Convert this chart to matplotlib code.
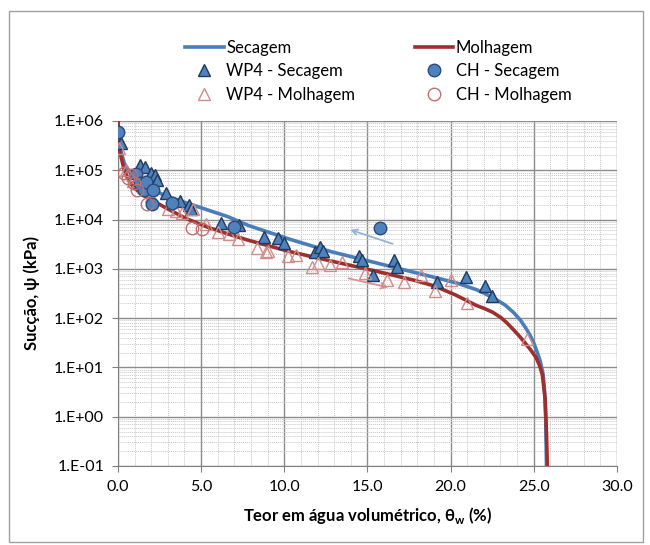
import numpy as np
import matplotlib
matplotlib.use("Agg")
from matplotlib import pyplot as plt
from matplotlib.patches import Rectangle
from matplotlib.ticker import MultipleLocator, LogLocator

plt.rcParams['font.family'] = ['Lato', 'DejaVu Sans']

# Curvas ajustadas (teor em agua %, succao kPa)
sec_theta = [0.0, 0.37, 0.87, 1.62, 2.86, 4.1, 5.35, 6.6, 7.84, 10.33, 12.8, 15.3,
             17.8, 20.3, 21.53, 22.0, 22.78, 23.3, 23.77, 24.2, 24.52, 24.8, 25.02,
             25.25, 25.39, 25.57, 25.66, 25.72, 25.77]
sec_psi = [10**5.61, 10**5.15, 10**4.87, 10**4.69, 10**4.48, 10**4.34, 10**4.20, 10**4.06,
           10**3.88, 10**3.60, 10**3.35, 10**3.14, 10**2.93, 10**2.72, 10**2.58, 10**2.51,
           10**2.37, 10**2.26, 10**2.12, 10**1.96, 10**1.80, 10**1.64, 10**1.48,
           10**1.27, 10**1.13, 10**0.85, 10**0.5, 10**0.0, 0.1]

mol_theta = [0.0, 0.05, 0.12, 0.37, 0.75, 1.37, 2.12, 2.86, 4.1, 5.35, 6.6, 7.84, 10.33,
             12.8, 15.3, 17.8, 19.05, 20.3, 21.53, 22.0, 22.53, 23.03, 23.4, 23.77, 24.15,
             24.52, 24.85, 25.14, 25.35, 25.52, 25.69, 25.77, 25.82]
mol_psi = [1.0e6, 10**5.7, 10**5.37, 10**5.01, 10**4.73, 10**4.52, 10**4.38, 10**4.24,
           10**4.02, 10**3.85, 10**3.71, 10**3.58, 10**3.35, 10**3.16, 10**2.97, 10**2.77,
           10**2.65, 10**2.47, 10**2.26, 10**2.20, 10**2.12, 10**2.01, 10**1.90, 10**1.77,
           10**1.63, 10**1.48, 10**1.34, 10**1.20, 10**1.04, 10**0.85, 10**0.35,
           10**-0.35, 0.1]

# Pontos experimentais
wp4_sec_theta = [0.18, 1.3, 1.6, 2.0, 2.2, 2.35, 2.9, 3.7, 4.3, 4.4, 6.2, 7.3, 8.8, 9.6,
                 10.0, 11.85, 12.15, 12.35, 14.5, 14.7, 15.35, 16.6, 16.75, 19.16, 20.9,
                 22.07, 22.47]
wp4_sec_psi = [3.5e5, 1.25e5, 1.15e5, 9e4, 8e4, 6.3e4, 3.5e4, 2.4e4, 1.96e4, 1.6e4, 8.5e3,
               7.9e3, 4.4e3, 4.2e3, 3.4e3, 2.2e3, 2.8e3, 2.3e3, 1.8e3, 1.5e3, 760, 1.5e3,
               1.1e3, 550, 690, 440, 275]

wp4_mol_theta = [0.08, 0.5, 0.9, 1.5, 2.0, 3.0, 3.5, 3.85, 4.5, 5.3, 6.0, 6.7, 7.2, 8.34,
                 8.9, 9.0, 10.24, 10.7, 11.65, 12.05, 12.75, 13.5, 14.85, 16.15, 17.2,
                 18.2, 19.06, 20.0, 21.0, 24.6]
wp4_mol_psi = [2.8e5, 1.0e5, 6e4, 4.5e4, 3e4, 1.6e4, 1.5e4, 1.35e4, 1.6e4, 8.3e3, 5.7e3,
               5.1e3, 4e3, 2.6e3, 2.2e3, 2.3e3, 1.8e3, 1.9e3, 1.1e3, 1.3e3, 1.2e3, 1.4e3,
               810, 590, 550, 750, 350, 590, 200, 38]

ch_sec_theta = [0.0, 1.07, 1.3, 1.57, 1.67, 2.1, 2.07, 3.24, 6.97, 15.73]
ch_sec_psi = [6e5, 8.5e4, 5.5e4, 4e4, 5.8e4, 4e4, 2.1e4, 2.2e4, 6.9e3, 6.8e3]

ch_mol_theta = [0.37, 0.62, 0.76, 0.95, 1.12, 1.74, 4.43, 5.05]
ch_mol_psi = [8.7e4, 6.9e4, 8e4, 5.5e4, 4e4, 2.1e4, 6.6e3, 6.4e3]

# Setas (inicio -> fim)
seta_sec = [(16.68, 10**3.49), (13.8, 10**3.81)]
seta_mol = [(13.7, 10**2.82), (16.42, 10**2.61)]

azul = '#4A7EBB'
vermelho = '#9E2F2D'

fig = plt.figure(figsize=(6.5, 5.45), dpi=100)
ax = fig.add_axes([0.1815, 0.145, 0.7675, 0.633])

ax.plot(sec_theta, sec_psi, color=azul, lw=2.6, label='Secagem', zorder=3)
ax.plot(mol_theta, mol_psi, color=vermelho, lw=2.6, label='Molhagem', zorder=4)
ax.plot(wp4_sec_theta, wp4_sec_psi, ls='none', marker='^', ms=9, mfc='#4F81BD',
        mec='#1F3A60', mew=1.0, label='WP4 - Secagem', zorder=5)
ax.plot(wp4_mol_theta, wp4_mol_psi, ls='none', marker='^', ms=9, mfc='none',
        mec='#D08C8A', mew=1.0, label='WP4 - Molhagem', zorder=5)
ax.plot(ch_sec_theta, ch_sec_psi, ls='none', marker='o', ms=9, mfc='#4F81BD',
        mec='#2A4A78', mew=1.0, label='CH - Secagem', zorder=5)
ax.plot(ch_mol_theta, ch_mol_psi, ls='none', marker='o', ms=9, mfc='none',
        mec='#C07070', mew=1.0, label='CH - Molhagem', zorder=5)

ax.annotate('', xy=seta_sec[1], xytext=seta_sec[0],
            arrowprops=dict(arrowstyle='->', color='#95B3D7', lw=1.3), zorder=2)
ax.annotate('', xy=seta_mol[1], xytext=seta_mol[0],
            arrowprops=dict(arrowstyle='->', color='#E09090', lw=1.3), zorder=2)

ax.set_yscale('log')
ax.set_xlim(0, 30)
ax.set_ylim(0.1, 1e6)
ax.xaxis.set_minor_locator(MultipleLocator(1))
ax.yaxis.set_minor_locator(LogLocator(base=10, subs=np.arange(2, 10), numticks=20))
ax.set_xticks([0, 5, 10, 15, 20, 25, 30])
ax.set_xticklabels(['0.0', '5.0', '10.0', '15.0', '20.0', '25.0', '30.0'])
ax.set_yticks([10.0**k for k in range(-1, 7)])
ax.set_yticklabels(['1.E-01', '1.E+00', '1.E+01', '1.E+02', '1.E+03', '1.E+04',
                    '1.E+05', '1.E+06'])
ax.tick_params(axis='both', which='major', labelsize=11.5, length=4, color='#808080',
               pad=6)
ax.tick_params(axis='both', which='minor', length=0)
ax.grid(which='major', color='#8C8C8C', lw=1.0)
ax.grid(which='minor', color='#C8C8C8', lw=0.7, ls=(0, (1, 1)))
ax.set_axisbelow(True)
for s in ['top', 'right']:
    ax.spines[s].set_visible(False)
for s in ['left', 'bottom']:
    ax.spines[s].set_color('#808080')

ax.set_xlabel('Teor em água volumétrico, θ$_\\mathregular{w}$ (%)', fontsize=12,
              fontweight='bold', labelpad=8)
ax.set_ylabel('Sucção, ψ (kPa)', fontsize=12, fontweight='bold', labelpad=10)

h, l = ax.get_legend_handles_labels()
ordem = [0, 2, 3, 1, 4, 5]
fig.legend([h[i] for i in ordem], [l[i] for i in ordem], ncol=2, loc='upper left',
           bbox_to_anchor=(0.262, 0.955), frameon=False, fontsize=12,
           handlelength=2.3, handletextpad=0.15, columnspacing=3.6, labelspacing=0.45)

fig.add_artist(Rectangle((0.014, 0.005), 0.975, 0.975, transform=fig.transFigure,
                         fill=False, edgecolor='#A0A0A0', lw=1.0))

fig.savefig('out.png', dpi=100)
